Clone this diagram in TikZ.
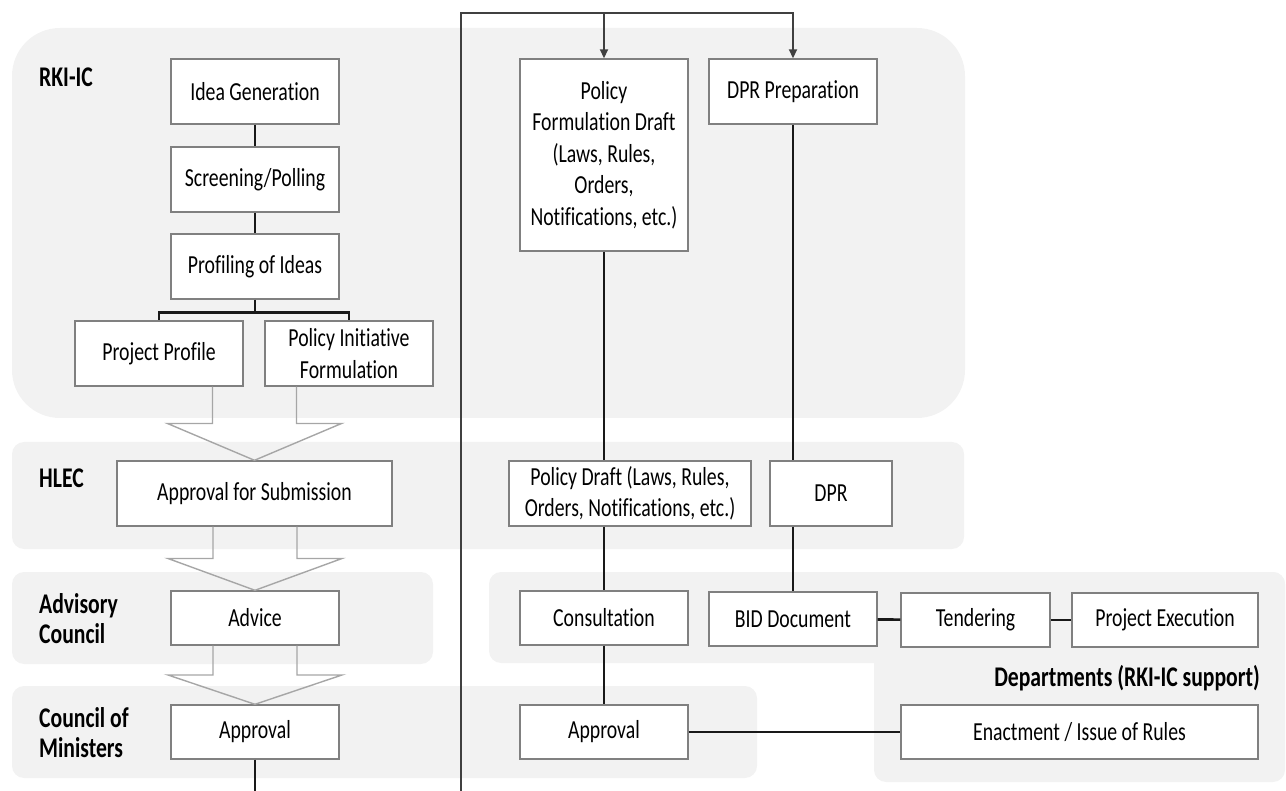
\documentclass[tikz,border=0pt]{standalone}
\usepackage{fontspec}
\setmainfont{Carlito}[FakeStretch=0.76, Ligatures=NoCommon]
\usepackage{tikz}
\usetikzlibrary{positioning, arrows.meta, calc}

\definecolor{panelgray}{HTML}{F2F2F2}
\definecolor{boxgray}{HTML}{808080}
\definecolor{fatgray}{HTML}{A6A6A6}
\definecolor{fbgray}{HTML}{404040}

\tikzset{
  box/.style={draw=boxgray, line width=1.4pt, fill=white, align=center, inner sep=1pt},
  panel/.style={fill=panelgray, draw=none},
  tag/.style={font=\fontsize{28.5}{30}\selectfont\bfseries, align=left, inner sep=0pt},
  link/.style={line width=1.6pt, black!90},
  thicklink/.style={line width=2.6pt, black!90},
  fatarrow/.style={draw=fatgray, line width=1.4pt},
  fbline/.style={line width=1.8pt, fbgray, -{Triangle[length=9pt, width=8pt]}}
}

% wide outlined arrow between two stacked boxes
\newcommand{\hollowarrow}[2]{
  \coordinate (t) at (#2.north);
  \coordinate (s) at (#2.north |- #1.south);
  \coordinate (m) at ($(s)!0.5!(t)$);
  \draw[fatarrow] ($(s)+(-42,0)$) -- ($(m)+(-42,0)$) -- ($(m)+(-87,0)$) -- (t)
    -- ($(m)+(87,0)$) -- ($(m)+(42,0)$) -- ($(s)+(42,0)$);
}

\begin{document}
\begin{tikzpicture}[x=1pt, y=-1pt, font=\fontsize{26}{31.5}\selectfont]
\useasboundingbox (0,0) rectangle (1286,791);

% background bands
\fill[panel, rounded corners=48pt] (12,28) rectangle (965,418);
\fill[panel, rounded corners=12pt] (12,442) rectangle (964,549);
\fill[panel, rounded corners=12pt] (12,572) rectangle (433,664);
\fill[panel, rounded corners=12pt] (12,686) rectangle (757,778);
\fill[panel, rounded corners=12pt] (489,572) rectangle (1285,663);
\fill[panel, rounded corners=12pt] (874,572) rectangle (1285,782);

% band labels
\node[tag, anchor=west] (rkiic) at (39,77) {RKI-IC};
\node[tag, anchor=west] (hlec) at (39,478) {HLEC};
\node[tag, anchor=west] (advc) at (39,619) {Advisory\\Council};
\node[tag, anchor=west] (com) at (39,733) {Council of\\Ministers};
\node[tag, anchor=east] (dept) at (1260,678) {Departments (RKI-IC support)};

% left column
\node[box, minimum width=168pt, minimum height=65pt] (idea) at (255,91.5) {Idea Generation};
\node[box, minimum width=168pt, minimum height=65pt] (screen) at (255,179.5) {Screening/Polling};
\node[box, minimum width=168pt, minimum height=65pt] (prof) at (255,266.5) {Profiling of Ideas};
\node[box, minimum width=168pt, minimum height=65pt] (pproj) at (159,353.5) {Project Profile};
\node[box, minimum width=168pt, minimum height=65pt] (pinit) at (349,353.5) {Policy Initiative\\Formulation};
\node[box, minimum width=275pt, minimum height=65pt] (hsub) at (254.5,493.5) {Approval for Submission};
\node[box, minimum width=168pt, minimum height=54pt] (advice) at (255,618) {Advice};
\node[box, minimum width=168pt, minimum height=54pt] (appr) at (255,732) {Approval};

% right part
\node[box, minimum width=168pt, minimum height=192pt] (pfd) at (604,155)
  {Policy\\Formulation Draft\\(Laws, Rules,\\Orders,\\Notifications, etc.)};
\node[box, minimum width=168pt, minimum height=65pt] (dprp) at (793,91.5) {DPR Preparation};
\node[box, minimum width=242pt, minimum height=65pt] (pdraft) at (630,493.5)
  {Policy Draft (Laws, Rules,\\Orders, Notifications, etc.)};
\node[box, minimum width=122pt, minimum height=65pt] (dpr) at (831,493.5) {DPR};
\node[box, minimum width=168pt, minimum height=54pt] (consult) at (604,618) {Consultation};
\node[box, minimum width=168pt, minimum height=54pt] (bid) at (793,619) {BID Document};
\node[box, minimum width=149pt, minimum height=54pt] (tender) at (975.5,620) {Tendering};
\node[box, minimum width=186pt, minimum height=54pt] (pexec) at (1165,620) {Project Execution};
\node[box, minimum width=168pt, minimum height=54pt] (appr2) at (604,732) {Approval};
\node[box, minimum width=357pt, minimum height=54pt] (enact) at (1079.5,732) {Enactment / Issue of Rules};

% idea pipeline
\draw[link] (idea) -- (screen);
\draw[link] (screen) -- (prof);
\draw[thicklink] (prof.south) -- ++(0,13) -| (pproj.north);
\draw[thicklink] (prof.south) ++(0,13) -| (pinit.north);

% hand-over arrows
\hollowarrow{pproj}{hsub}
\hollowarrow{hsub}{advice}
\hollowarrow{advice}{appr}

\coordinate (out) at (255,791);
\draw[link] (appr) -- (out);

% feedback loop
\coordinate (fb) at (461,791);
\coordinate (top) at (461,13);
\draw[fbline] (fb) -- (top) -| (pfd.north);
\draw[fbline] (pfd.north |- top) -| (dprp.north);

% policy and project tracks
\draw[link] (pfd) -- (pfd.south |- pdraft.north);
\draw[link] (pfd.south |- pdraft.south) -- (consult);
\draw[link] (consult) -- (appr2);
\draw[link] (dprp) -- (dprp.south |- dpr.north);
\draw[link] (dprp.south |- dpr.south) -- (bid);
\draw[thicklink] (bid) -- (tender);
\draw[thicklink] (tender) -- (pexec);
\draw[thicklink] (appr2) -- (enact);
\end{tikzpicture}
\end{document}
